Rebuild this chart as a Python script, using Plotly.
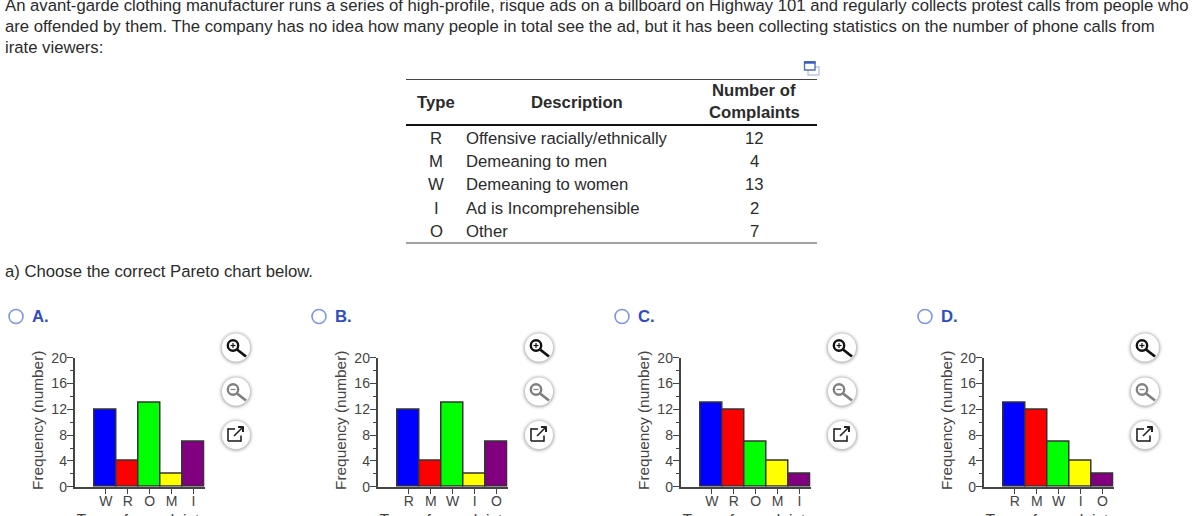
import plotly.graph_objects as go

W, H = 1200, 516
FONT = "Liberation Sans"
TEXT = "#2b2b2b"
AXIS = "#444444"
BODY = 16.7

intro_lines = [
    "An avant-garde clothing manufacturer runs a series of high-profile, risque ads on a billboard on Highway 101 and regularly collects protest calls from people who",
    "are offended by them. The company has no idea how many people in total see the ad, but it has been collecting statistics on the number of phone calls from",
    "irate viewers:",
]
question = "a) Choose the correct Pareto chart below."

table_types = ["R", "M", "W", "I", "O"]
table_desc = ["Offensive racially/ethnically", "Demeaning to men", "Demeaning to women",
              "Ad is Incomprehensible", "Other"]
table_counts = [12, 4, 13, 2, 7]

option_names = ["A.", "B.", "C.", "D."]
labels_a = ["W", "R", "O", "M", "I"]
values_a = [12, 4, 13, 2, 7]
labels_b = ["R", "M", "W", "I", "O"]
values_b = [12, 4, 13, 2, 7]
labels_c = ["W", "R", "O", "M", "I"]
values_c = [13, 12, 7, 4, 2]
labels_d = ["R", "M", "W", "I", "O"]
values_d = [13, 12, 7, 4, 2]
bar_colors = ["#0000ff", "#ff0000", "#00ff00", "#ffff00", "#800080"]
y_ticks = [0, 4, 8, 12, 16, 20]
x_title = "Type of complaint"
y_title = "Frequency (number)"

def px(x):
    return x / W

def py(y):
    return 1 - y / H

annotations, shapes = [], []

def add_text(x, y, text, size=BODY, color=TEXT, anchor="left", bold=False, angle=0):
    annotations.append(dict(
        x=px(x), y=py(y), xref="paper", yref="paper", text=f"<b>{text}</b>" if bold else text,
        showarrow=False, xanchor=anchor, yanchor="middle", align=anchor, textangle=angle,
        font=dict(family=FONT, size=size, color=color), borderpad=0, borderwidth=0))

def add_line(x0, y0, x1, y1, color="#333333", width=1.0):
    shapes.append(dict(type="line", xref="paper", yref="paper", x0=px(x0), y0=py(y0), x1=px(x1), y1=py(y1),
                       line=dict(color=color, width=width)))

def add_circle(cx, cy, r, fill="rgba(0,0,0,0)", color="rgba(0,0,0,0)", width=0.0):
    shapes.append(dict(type="circle", xref="paper", yref="paper", x0=px(cx - r), x1=px(cx + r),
                       y0=py(cy + r), y1=py(cy - r), fillcolor=fill, line=dict(color=color, width=width)))

def add_rect(x0, y0, x1, y1, fill="rgba(0,0,0,0)", color="#000000", width=1.0):
    shapes.append(dict(type="rect", xref="paper", yref="paper", x0=px(x0), x1=px(x1), y0=py(y1), y1=py(y0),
                       fillcolor=fill, line=dict(color=color, width=width)))

def add_button(cx, cy):
    for r, a in ((18, 0.025), (17, 0.04), (16, 0.06), (15.2, 0.09)):
        add_circle(cx, cy + 0.5, r, fill=f"rgba(0,0,0,{a})")
    add_circle(cx, cy, 14, fill="#ffffff")

def add_tools(cx):
    y1, y2, y3 = 347.5, 391.5, 435
    for y in (y1, y2, y3):
        add_button(cx, y)
    # zoom in
    add_circle(cx - 3, y1 - 2, 5.2, color="#111111", width=2.4)
    add_line(cx + 1, y1 + 2, cx + 10, y1 + 9, "#111111", 2.8)
    add_line(cx - 5.5, y1 - 2, cx - 0.5, y1 - 2, "#111111", 1.2)
    add_line(cx - 3, y1 - 4.5, cx - 3, y1 + 0.5, "#111111", 1.2)
    # zoom out
    add_circle(cx - 3, y2 - 2, 5.2, color="#808080", width=2.4)
    add_line(cx + 1, y2 + 2, cx + 10, y2 + 9, "#808080", 2.8)
    add_line(cx - 5.5, y2 - 2, cx - 0.5, y2 - 2, "#808080", 1.2)
    # open in new window
    add_line(cx - 1, y3 - 6, cx - 8, y3 - 6, "#222222", 1.6)
    add_line(cx - 8, y3 - 6.7, cx - 8, y3 + 6, "#222222", 1.6)
    add_line(cx - 8, y3 + 6, cx + 5, y3 + 6, "#222222", 1.6)
    add_line(cx + 5, y3 + 6.7, cx + 5, y3 + 0.5, "#222222", 1.6)
    add_line(cx - 2, y3 + 1, cx + 7, y3 - 8, "#222222", 1.6)
    add_line(cx + 2, y3 - 8, cx + 7.5, y3 - 8, "#222222", 2)
    add_line(cx + 7, y3 - 8.5, cx + 7, y3 - 3, "#222222", 2)

# question text (the first line is handled with the page layer below, because it runs off the top)
for line, y in zip(intro_lines[1:], (27, 48)):
    add_text(5, y, line)
add_text(5, 271, question)

# table
add_line(406, 79.5, 817, 79.5, "#444444", 1.2)
add_line(406, 125, 817, 125, "#111111", 2)
add_line(406, 243, 817, 243, "#444444", 1.2)
add_text(436, 102, "Type", anchor="center", bold=True)
add_text(577, 102, "Description", anchor="center", bold=True)
add_text(754, 91, "Number of", anchor="center", bold=True)
add_text(754, 113, "Complaints", anchor="center", bold=True)
for t, d, c, y in zip(table_types, table_desc, table_counts, (138, 161, 185, 208, 231)):
    add_text(436, y, t, anchor="center")
    add_text(466, y, d)
    add_text(754, y, str(c), anchor="center")
# copy-table icon
add_rect(808, 67, 819, 75, fill="#ffffff", color="#bcc8e6", width=1.4)
add_rect(804.5, 62, 815, 70, fill="#ffffff", color="#5570b8", width=1.4)
add_line(804, 62.5, 815.5, 62.5, "#3557b7", 2.4)

# chart panels
panels = [(labels_a, values_a), (labels_b, values_b), (labels_c, values_c), (labels_d, values_d)]
OFFSET = 303
fig = go.Figure()
title_x, title_y = [], []
for i, ((labels, values), name) in enumerate(zip(panels, option_names)):
    dx = i * OFFSET
    suffix = "" if i == 0 else str(i + 1)
    fig.add_trace(go.Bar(x=labels, y=values, width=1.0, xaxis=f"x{suffix}", yaxis=f"y{suffix}",
                         marker=dict(color=bar_colors, line=dict(color="#333333", width=1.5)),
                         showlegend=False, hoverinfo="x+y"))
    common = dict(showgrid=False, zeroline=False, showline=True, linecolor=AXIS, linewidth=1.5,
                  ticks="outside", tickcolor=AXIS, tickwidth=1, automargin=False,
                  tickfont=dict(family=FONT, size=14, color=AXIS))
    x_layout = dict(domain=[px(74.5 + dx), px(204.5 + dx)], range=[-1.43, 4.5], type="category",
                    anchor=f"y{suffix}", ticklen=6, tickmode="array", tickvals=labels,
                    ticklabelstandoff=-5, categoryorder="array", categoryarray=labels, **common)
    y_layout = dict(domain=[py(486.7), py(357.7)], range=[0, 20], anchor=f"x{suffix}",
                    ticklen=6, tickmode="array", tickvals=y_ticks, ticklabelstandoff=-3,
                    minor=dict(dtick=2, ticks="outside", ticklen=3, tickcolor=AXIS, tickwidth=1),
                    **common)
    fig.update_layout({f"xaxis{suffix}": x_layout, f"yaxis{suffix}": y_layout})
    add_circle(16 + dx, 316.5, 7, fill="#ffffff", color="#7f97e3", width=1.6)
    add_text(32 + dx, 316, name, color="#2f4fc0", bold=True)
    add_tools(236 + dx)
    add_text(37 + dx, 421, y_title, 15.4, color=AXIS, anchor="center", angle=-90)
    title_x.append(138 + dx)
    title_y.append(522)

# page-sized layer: text here is clipped by the page edges, as in the reference
fig.add_trace(go.Scatter(x=title_x, y=title_y, mode="text", text=[x_title] * 4, textposition="middle center",
                         textfont=dict(family=FONT, size=15.7, color=AXIS), cliponaxis=True,
                         xaxis="x5", yaxis="y5", hoverinfo="skip", showlegend=False))
fig.add_trace(go.Scatter(x=[5], y=[6.5], mode="text", text=[intro_lines[0]], textposition="middle right",
                         textfont=dict(family=FONT, size=BODY, color=TEXT), cliponaxis=True,
                         xaxis="x5", yaxis="y5", hoverinfo="skip", showlegend=False))
fig.update_layout(
    xaxis5=dict(domain=[0, 1], range=[0, W], visible=False, anchor="y5", fixedrange=True, automargin=False),
    yaxis5=dict(domain=[0, 1], range=[H, 0], visible=False, anchor="x5", fixedrange=True, automargin=False),
)

fig.update_layout(template="none", width=W, height=H, autosize=False, margin=dict(l=0, r=0, t=0, b=0),
                  paper_bgcolor="#ffffff", plot_bgcolor="rgba(0,0,0,0)", bargap=0,
                  annotations=annotations, shapes=shapes, showlegend=False)

fig.write_html("out.html", config=dict(displayModeBar=False),
               post_script="document.body.style.margin='0';document.body.style.overflow='hidden';")
